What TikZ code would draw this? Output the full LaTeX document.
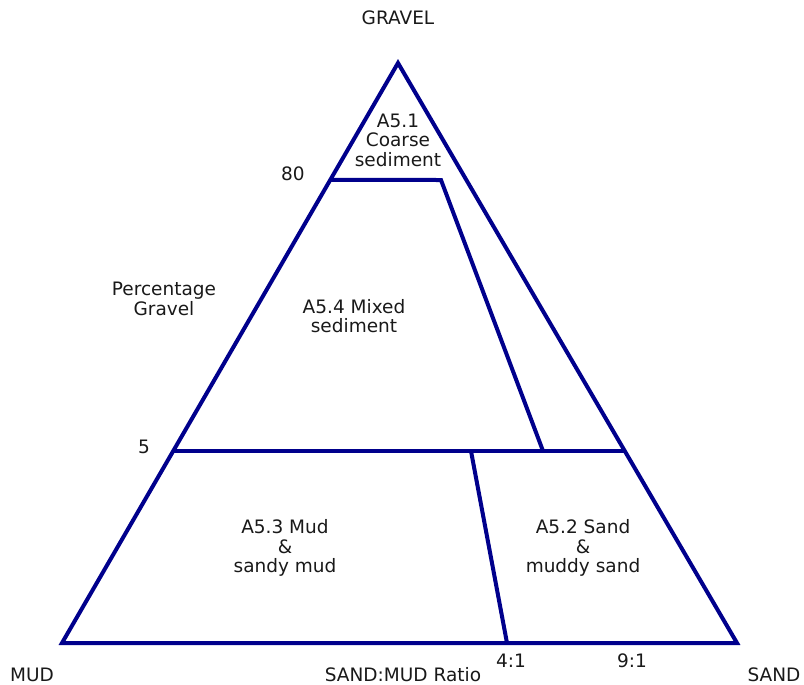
\documentclass[tikz,border=0pt]{standalone}
\usepackage{fontspec}
\setmainfont{DejaVu Sans}
\usetikzlibrary{calc}
\definecolor{navyline}{RGB}{0,0,140}
\tikzset{
    zone/.style={draw=navyline, line width=4pt, line join=miter},
    lbl/.style={font=\fontsize{18.5}{19.5}\selectfont, align=center, text=black!90, inner sep=0pt}
}
\begin{document}
\begin{tikzpicture}[x=1pt, y=-1pt]
    \useasboundingbox (0,0) rectangle (804,685);
    % corners of the triangle
    \coordinate (gravel) at (398,63);
    \coordinate (mud) at (62,643);
    \coordinate (sand) at (737,643);
    \coordinate (g80) at ($(gravel)!0.2017!(mud)$);
    \coordinate (g80r) at (441,180);
    \coordinate (g5) at ($(gravel)!0.669!(mud)$);
    \coordinate (g5r) at ($(gravel)!0.669!(sand)$);
    \coordinate (mixed) at (543,451);
    \coordinate (r41top) at (471,451);
    \coordinate (r41) at (507,643);
    % boundaries
    \draw[zone] (gravel) -- (mud) -- (sand) -- cycle;
    \draw[zone] (g80) -- (g80r) -- (mixed);
    \draw[zone] (g5) -- (g5r);
    \draw[zone] (r41top) -- (r41);
    % labels
    \node[lbl] (tgravel) at (398,18) {GRAVEL};
    \node[lbl] (tmud) at (32,675) {MUD};
    \node[lbl] (tsand) at (774,675) {SAND};
    \node[lbl] (tratio) at (403,675) {SAND:MUD Ratio};
    \node[lbl] (t41) at (511,661) {4:1};
    \node[lbl] (t91) at (632,661) {9:1};
    \node[lbl] (t80) at (293,174) {80};
    \node[lbl] (t5) at (144,447) {5};
    \node[lbl] (tperc) at (164,299) {Percentage\\Gravel};
    \node[lbl] (a51) at (398,140) {A5.1\\Coarse\\sediment};
    \node[lbl] (a54) at (354,316) {A5.4 Mixed\\sediment};
    \node[lbl] (a53) at (285,548) {A5.3 Mud\\\&\\sandy mud};
    \node[lbl] (a52) at (583,548) {A5.2 Sand\\\&\\muddy sand};
\end{tikzpicture}
\end{document}
